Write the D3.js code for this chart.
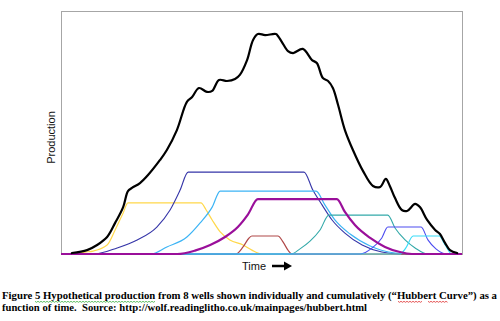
<!DOCTYPE html>
<html>
<head>
<meta charset="utf-8">
<script src="https://cdn.jsdelivr.net/npm/d3@7"></script>
<style>
  html, body { margin: 0; padding: 0; background: #ffffff; }
  svg { display: block; }
  text { white-space: pre; }
</style>
</head>
<body>
<svg id="chart" width="500" height="321"></svg>
<script>
// ---- Data (time 0..100, production 0..100) ----
const timeDomain = [0, 100];
const prodDomain = [0, 100];

const wellYellow    = [[0,0],[2.7,0],[6,0.8],[8,1.2],[11.5,3.7],[13.5,9.9],[15.5,16.9],[16.7,21],[34.9,21],[36.2,18.1],[37.7,14],[39.7,9.1],[42.1,5.8],[45.4,3.7],[47.6,1.6],[50.1,0],[100,0]];
const wellDarkBlue  = [[0,0],[8.2,0],[14,2.5],[19,5.8],[23.9,11.1],[27.2,18.1],[29.7,26.3],[31.7,33.7],[60.6,33.7],[62.8,26.3],[65.1,20.2],[67.6,14],[70.8,8.6],[75.1,3.7],[80,0.8],[84.5,0],[100,0]];
const wellLightBlue = [[0,0],[22.4,0],[26.4,2.9],[31.4,7],[34.7,12.8],[37.7,19.3],[39.7,25.9],[63.6,25.9],[65.8,20.2],[68.3,14],[72.1,8.2],[77.1,3.3],[83.3,0.4],[87,0],[100,0]];
const wellBrown     = [[0,0],[43.6,0],[45.4,2.9],[46.9,6.6],[47.6,7.4],[54.1,7.4],[55.4,4.9],[56.6,1.6],[57.6,0],[100,0]];
const wellTeal      = [[0,0],[57.4,0],[59.6,2.1],[62.1,5.3],[64.6,9.9],[66.8,16],[81.5,16],[83.3,10.7],[85.8,5.8],[88.3,2.5],[91.5,0],[100,0]];
const wellBlue      = [[0,0],[74.6,0],[77.6,2.5],[80,6.6],[81.5,11.1],[89.8,11.1],[91.5,5.8],[93.5,2.1],[96.3,0],[100,0]];
const wellCyan      = [[0,0],[84.5,0],[86,2.5],[87.8,7.4],[94.3,7.4],[95.8,3.7],[97.5,0],[100,0]];
const wellPurple    = [[0,0],[29,0],[33.4,1.4],[37.2,3.7],[40.9,7.0],[44.1,11.1],[46.6,16.2],[49.1,22.6],[68.8,22.6],[70.8,17.3],[73.3,11.9],[77.1,6.6],[80.8,2.9],[84.5,0.8],[87.5,0],[100,0]];
const totalHubbert  = [[2.7,0.4],[6.5,1.6],[9,3.7],[11.5,7],[13.5,12.8],[15.5,19.3],[16.7,25.9],[17.7,27.2],[19.7,29.2],[21.7,32.5],[24.7,38.7],[26.4,42.8],[28.9,51],[31.4,62.6],[32.7,64.6],[34.4,68.3],[36.4,66.7],[37.7,67.1],[39.4,71.6],[41.4,71.2],[43.4,72],[44.6,73.7],[46.4,79.8],[47.9,88.1],[49.1,90.5],[50.9,90.1],[53.6,90.5],[54.1,89.7],[55.1,87.2],[56.6,83.5],[57.9,82.7],[60.3,84.4],[62.6,79.8],[63.8,78.6],[65.3,72.4],[66.6,71.2],[67.8,68.3],[69.1,61.3],[70.8,51],[72.8,42.8],[75.3,34.2],[77.8,28],[79.6,27.6],[81,30.9],[82,28],[83.3,23],[85,18.1],[86.3,17.7],[88.3,20.6],[89.5,19.3],[91.3,14],[93.3,9.9],[94.5,8.2],[95.8,4.5],[97,1.6],[98.8,0.4]];

const yLabel = "Production";
const xLabel = "Time";
const captionLines = [
  "Figure 5 Hypothetical production from 8 wells shown individually and cumulatively (\u201cHubbert Curve\u201d) as a",
  "function of time.  Source: http://wolf.readinglitho.co.uk/mainpages/hubbert.html"
];

// ---- Drawing ----
const svg = d3.select("#chart");
const plot = { left: 61, right: 462, top: 11, bottom: 254 };

const x = d3.scaleLinear().domain(timeDomain).range([plot.left, plot.right]);
const y = d3.scaleLinear().domain(prodDomain).range([plot.bottom, plot.top]);

// Plot frame
svg.append("rect")
  .attr("x", plot.left + 0.5).attr("y", plot.top + 0.5)
  .attr("width", plot.right - plot.left).attr("height", plot.bottom - plot.top)
  .attr("fill", "none").attr("stroke", "#a6a6a6").attr("stroke-width", 1);

const wellLine = d3.line().x(d => x(d[0])).y(d => y(d[1])).curve(d3.curveMonotoneX);
const totalLine = d3.line().x(d => x(d[0])).y(d => y(d[1])).curve(d3.curveCatmullRom.alpha(0.5));

const series = [
  { data: wellYellow,    color: "#ffd84a", width: 1.2 },
  { data: wellDarkBlue,  color: "#3535a8", width: 1.1 },
  { data: wellLightBlue, color: "#3cb4f5", width: 1.2 },
  { data: wellBrown,     color: "#b04848", width: 1.2 },
  { data: wellTeal,      color: "#33a9a9", width: 1.1 },
  { data: wellBlue,      color: "#4c4cf0", width: 1.1 },
  { data: wellCyan,      color: "#38dcf8", width: 1.2 },
  { data: wellPurple,    color: "#9a0f9a", width: 2.2 }
];

const g = svg.append("g");
series.forEach(s => {
  g.append("path")
    .attr("d", wellLine(s.data))
    .attr("fill", "none")
    .attr("stroke", s.color)
    .attr("stroke-width", s.width)
    .attr("stroke-linejoin", "round");
});

g.append("path")
  .attr("d", totalLine(totalHubbert))
  .attr("fill", "none")
  .attr("stroke", "#000000")
  .attr("stroke-width", 2.2)
  .attr("stroke-linejoin", "round")
  .attr("stroke-linecap", "round");

// Axis labels
svg.append("text")
  .attr("transform", `translate(55,${(plot.top + plot.bottom) / 2 + 5}) rotate(-90)`)
  .attr("text-anchor", "middle")
  .attr("font-family", "Liberation Sans, Arial, sans-serif")
  .attr("font-size", 11)
  .attr("fill", "#111")
  .text(yLabel);

svg.append("text")
  .attr("x", 242).attr("y", 270)
  .attr("font-family", "Liberation Sans, Arial, sans-serif")
  .attr("font-size", 11)
  .attr("fill", "#111")
  .text(xLabel);

// Arrow next to "Time"
svg.append("line")
  .attr("x1", 272).attr("y1", 266).attr("x2", 286).attr("y2", 266)
  .attr("stroke", "#000").attr("stroke-width", 2.5);
svg.append("path")
  .attr("d", "M284,261.5 L292,266 L284,270.5 Z")
  .attr("fill", "#000");

// Caption
const cap = svg.append("g")
  .attr("font-family", "Liberation Serif, 'Times New Roman', serif")
  .attr("font-weight", "bold")
  .attr("font-size", 10.5)
  .attr("fill", "#000");
cap.append("text").attr("x", 2).attr("y", 299)
  .attr("textLength", 495).attr("lengthAdjust", "spacingAndGlyphs")
  .text(captionLines[0]);
cap.append("text").attr("x", 2).attr("y", 311)
  .attr("textLength", 365).attr("lengthAdjust", "spacingAndGlyphs")
  .text(captionLines[1]);

// Spell-check squiggles seen under the caption
const squiggle = (x0, x1, yy, color) => {
  const pts = [];
  for (let xx = x0, i = 0; xx <= x1; xx += 1.5, i++) pts.push([xx, yy + (i % 2 ? 0.8 : -0.2)]);
  svg.append("path").attr("d", d3.line()(pts)).attr("fill", "none")
    .attr("stroke", color).attr("stroke-width", 0.8);
};
squiggle(35, 155, 301.5, "#3cb043");
squiggle(398, 423, 301.5, "#e03030");
squiggle(428, 448, 301.5, "#e03030");
</script>
</body>
</html>
